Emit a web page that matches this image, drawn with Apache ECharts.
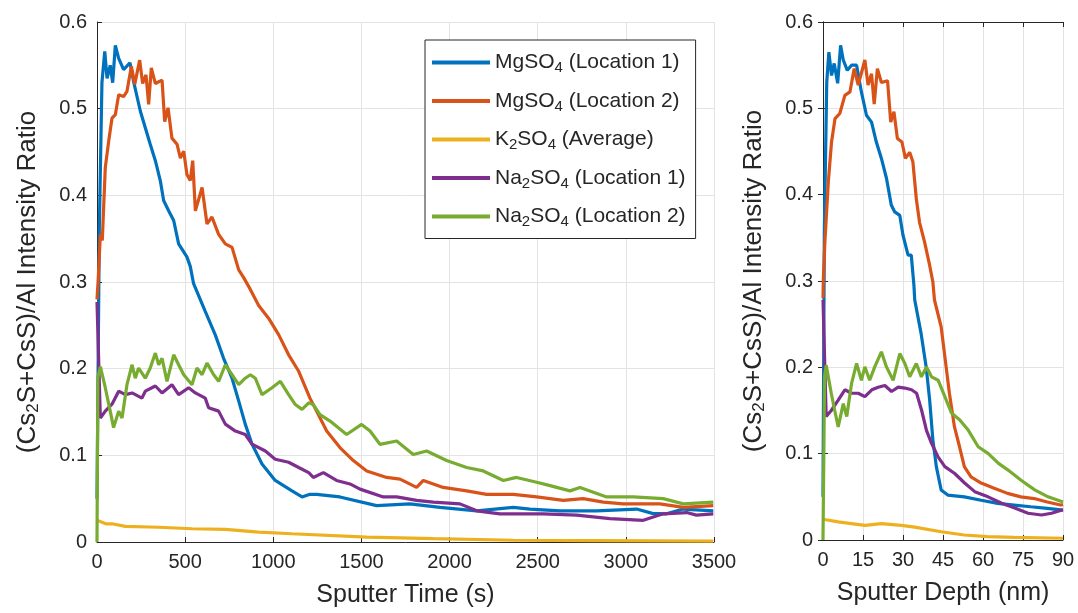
<!DOCTYPE html>
<html>
<head>
<meta charset="utf-8">
<script src="https://cdn.jsdelivr.net/npm/echarts@6/dist/echarts.min.js"></script>
<style>
  html, body { margin: 0; padding: 0; background: #fff; }
  #main { width: 1078px; height: 613px; }
</style>
</head>
<body>
<div id="main"></div>
<script>
// series names + legend labels (with subscripts)
var seriesNames = ['MgSO4 (Location 1)', 'MgSO4 (Location 2)', 'K2SO4 (Average)', 'Na2SO4 (Location 1)', 'Na2SO4 (Location 2)'];
var legendLabels = ['MgSO{sub|4} (Location 1)', 'MgSO{sub|4} (Location 2)', 'K{sub|2}SO{sub|4} (Average)', 'Na{sub|2}SO{sub|4} (Location 1)', 'Na{sub|2}SO{sub|4} (Location 2)'];
var colors = ['#0072BD', '#D95319', '#EDB120', '#7E2F8E', '#77AC30'];

var timeTicks = [0, 500, 1000, 1500, 2000, 2500, 3000, 3500];
var depthTicks = [0, 15, 30, 45, 60, 75, 90];

// ---- left panel: [sputter time (s), ratio]
var mg1Time = [[0,0.05],[13,0.36],[28,0.53],[44,0.566],[57,0.535],[75,0.55],[89,0.53],[104,0.573],[123,0.558],[151,0.545],[187,0.553],[208,0.531],[246,0.497],[274,0.478],[302,0.459],[331,0.44],[359,0.417],[378,0.394],[407,0.382],[435,0.371],[463,0.344],[510,0.329],[529,0.318],[548,0.298],[614,0.266],[671,0.239],[718,0.212],[766,0.189],[804,0.1625],[841,0.136],[879,0.113],[936,0.09],[1011,0.071],[1106,0.059],[1163,0.052],[1208,0.055],[1246,0.055],[1378,0.052],[1586,0.042],[1775,0.044],[1946,0.04],[2154,0.036],[2361,0.04],[2456,0.038],[2626,0.036],[2834,0.036],[3061,0.038],[3150,0.033],[3231,0.0325],[3325,0.038],[3496,0.036]];
var mg2Time = [[0,0.28],[6,0.30],[19,0.355],[30,0.348],[47,0.432],[66,0.462],[85,0.489],[104,0.493],[123,0.516],[151,0.514],[170,0.52],[195,0.549],[214,0.528],[242,0.556],[259,0.529],[278,0.539],[293,0.505],[308,0.547],[331,0.529],[369,0.533],[384,0.485],[403,0.501],[425,0.466],[454,0.459],[473,0.443],[492,0.451],[510,0.424],[529,0.417],[543,0.44],[558,0.382],[596,0.409],[624,0.367],[652,0.375],[690,0.355],[728,0.344],[766,0.34],[804,0.314],[832,0.305],[860,0.295],[917,0.273],[974,0.258],[1031,0.239],[1087,0.216],[1144,0.197],[1208,0.166],[1303,0.128],[1378,0.109],[1454,0.094],[1530,0.082],[1643,0.0745],[1719,0.0726],[1813,0.063],[1851,0.071],[1964,0.063],[2097,0.059],[2210,0.055],[2361,0.055],[2494,0.052],[2645,0.048],[2758,0.05],[2872,0.046],[2985,0.044],[3099,0.044],[3193,0.044],[3326,0.04],[3496,0.042]];
var k2Time = [[0,0.025],[10,0.023],[50,0.021],[85,0.021],[161,0.018],[350,0.017],[539,0.0153],[728,0.0145],[917,0.0115],[1106,0.0095],[1530,0.0057],[1908,0.0038],[2361,0.002],[2800,0.0015],[3496,0.001]];
var na1Time = [[0,0.277],[19,0.143],[47,0.151],[85,0.159],[123,0.174],[161,0.17],[199,0.172],[255,0.166],[274,0.174],[331,0.18],[369,0.172],[425,0.1815],[463,0.17],[520,0.178],[558,0.172],[614,0.166],[633,0.155],[690,0.151],[728,0.136],[785,0.128],[841,0.124],[879,0.113],[955,0.105],[1011,0.0955],[1087,0.092],[1144,0.086],[1201,0.08],[1227,0.0745],[1284,0.08],[1359,0.071],[1435,0.067],[1492,0.061],[1624,0.052],[1700,0.052],[1813,0.048],[1908,0.046],[2059,0.044],[2154,0.036],[2286,0.0325],[2380,0.0325],[2531,0.0325],[2721,0.031],[2910,0.027],[3099,0.025],[3212,0.0325],[3345,0.034],[3400,0.031],[3496,0.0325]];
var na2Time = [[0,0],[5,0.19],[19,0.2025],[47,0.178],[75,0.151],[94,0.132],[123,0.151],[142,0.143],[170,0.1815],[199,0.2045],[217,0.189],[236,0.2007],[274,0.189],[302,0.2007],[331,0.218],[350,0.2045],[369,0.212],[397,0.1854],[435,0.216],[463,0.2045],[492,0.193],[539,0.1815],[567,0.2007],[596,0.193],[624,0.2064],[662,0.193],[690,0.1854],[728,0.2045],[766,0.193],[804,0.1815],[841,0.189],[870,0.193],[898,0.189],[936,0.17],[993,0.178],[1040,0.1854],[1087,0.17],[1125,0.1586],[1163,0.153],[1201,0.1606],[1227,0.1586],[1265,0.147],[1322,0.1395],[1416,0.124],[1501,0.1357],[1549,0.128],[1605,0.1127],[1700,0.1166],[1794,0.101],[1870,0.105],[1983,0.094],[2097,0.086],[2191,0.082],[2305,0.071],[2380,0.0745],[2494,0.069],[2570,0.065],[2683,0.059],[2740,0.063],[2891,0.052],[3042,0.052],[3212,0.05],[3326,0.044],[3496,0.046]];

// ---- right panel: [sputter depth (nm), ratio]
var mg1Depth = [[0,0.05],[0.5,0.357],[1.4,0.53],[2.2,0.565],[3.2,0.538],[4.2,0.552],[5.5,0.529],[6.6,0.573],[7.6,0.556],[9.1,0.544],[10.7,0.55],[12.6,0.55],[14.4,0.519],[16.3,0.492],[18.2,0.484],[20,0.461],[21.9,0.442],[23.8,0.419],[25.6,0.388],[26.9,0.38],[28.8,0.376],[30,0.353],[31.9,0.33],[33.1,0.33],[34.1,0.295],[34.4,0.278],[36.8,0.239],[38.7,0.2],[40,0.162],[41.2,0.116],[42.5,0.085],[44.3,0.058],[46.8,0.052],[53,0.05],[59.3,0.046],[65.5,0.0425],[71.7,0.0405],[77.9,0.0385],[84.1,0.0367],[90,0.0347]];
var mg2Depth = [[0,0.28],[0.1,0.299],[0.7,0.345],[2,0.415],[3.2,0.461],[4.5,0.488],[6.3,0.494],[8.2,0.515],[10.1,0.519],[11.7,0.546],[13.2,0.527],[15.7,0.556],[16.9,0.527],[18.2,0.54],[19.2,0.505],[20.4,0.546],[21.9,0.53],[24.2,0.532],[25.4,0.484],[26.6,0.496],[27.9,0.465],[29.6,0.461],[30.9,0.442],[32.5,0.449],[33.7,0.438],[35,0.395],[36.2,0.368],[38.1,0.345],[40,0.318],[41.2,0.299],[41.8,0.278],[44.3,0.247],[46.2,0.2],[47.4,0.17],[49.3,0.131],[51.2,0.108],[53,0.085],[55.5,0.073],[59.3,0.066],[64.2,0.06],[69.2,0.054],[74.2,0.05],[79.2,0.048],[84.1,0.044],[89.1,0.0405],[90,0.041]];
var k2Depth = [[0,0.024],[0.7,0.023],[5.7,0.021],[15.7,0.017],[21.9,0.019],[29.4,0.017],[34.4,0.015],[44.3,0.0096],[53,0.0058],[61.7,0.0038],[71.7,0.003],[90,0.002]];
var na1Depth = [[0,0.278],[1.2,0.143],[3.1,0.15],[5.7,0.162],[8.2,0.174],[10.7,0.17],[13.2,0.17],[15.7,0.166],[18.3,0.174],[20.7,0.177],[23.2,0.179],[25.7,0.172],[28.2,0.177],[30.7,0.176],[33.2,0.174],[35.1,0.17],[37,0.15],[38.8,0.127],[40.7,0.112],[43.2,0.096],[45.7,0.085],[49.4,0.077],[53.1,0.066],[56.9,0.056],[61.9,0.05],[67,0.0425],[71.9,0.037],[76.9,0.031],[81.9,0.029],[85.7,0.031],[90,0.035]];
var na2Depth = [[0,0],[0.6,0.19],[1.2,0.2025],[3.1,0.17],[4.4,0.15],[5.7,0.131],[7.6,0.158],[8.9,0.143],[10.7,0.181],[12.6,0.2045],[14.4,0.185],[15.7,0.2005],[17.5,0.185],[19.4,0.2005],[21.9,0.218],[23.8,0.2005],[26.3,0.185],[28.8,0.216],[30.7,0.2045],[32.5,0.189],[35,0.2045],[36.9,0.189],[38.8,0.2005],[40.7,0.189],[43.2,0.185],[45.7,0.166],[48.2,0.147],[51.3,0.139],[54.5,0.127],[58.2,0.108],[62,0.1],[65.7,0.089],[69.4,0.081],[74.4,0.069],[79.4,0.058],[84.4,0.05],[90,0.044]];

var timeData = [mg1Time, mg2Time, k2Time, na1Time, na2Time];
var depthData = [mg1Depth, mg2Depth, k2Depth, na1Depth, na2Depth];

var txt = '#262626';
var fontFam = 'Liberation Sans, Arial, sans-serif';
var yName = '(Cs{sub|2}S+CsS)/Al Intensity Ratio';
function subStyle(size, drop) {
  return { sub: { fontSize: size, padding: [drop, 0, 0, 0], color: txt, fontFamily: fontFam } };
}

function valueY(grid, pos, show) {
  return {
    type: 'value', gridIndex: grid, position: pos, min: 0, max: 0.6, interval: 0.1,
    name: show ? yName : '', nameLocation: 'middle', nameGap: 55, nameRotate: 90,
    nameTextStyle: { fontSize: 26, color: txt, fontFamily: fontFam, rich: subStyle(17, 12) },
    axisLine: { show: true, lineStyle: { color: txt, width: 1 } },
    axisTick: { show: true, inside: true, length: 5, lineStyle: { color: txt } },
    axisLabel: { show: show, fontSize: 20, color: txt, fontFamily: fontFam, margin: 10,
      formatter: function (v) { return String(+v.toFixed(1)); } },
    splitLine: { show: show, lineStyle: { color: '#e3e3e3', width: 1 } }
  };
}
function valueX(grid, pos, max, step, name) {
  return {
    type: 'value', gridIndex: grid, position: pos, min: 0, max: max, interval: step,
    name: name, nameLocation: 'middle', nameGap: 41,
    nameTextStyle: { fontSize: 25, color: txt, fontFamily: fontFam },
    axisLine: { show: true, onZero: false, lineStyle: { color: txt, width: 1 } },
    axisTick: { show: true, inside: true, length: 5, lineStyle: { color: txt } },
    axisLabel: { show: !!name, fontSize: 20, color: txt, fontFamily: fontFam, margin: 10,
      formatter: function (v) { return String(v); } },
    splitLine: { show: !!name, lineStyle: { color: '#e3e3e3', width: 1 } }
  };
}

var series = [];
seriesNames.forEach(function (n, i) {
  series.push({ name: n, type: 'line', xAxisIndex: 0, yAxisIndex: 0, data: timeData[i],
    showSymbol: false, color: colors[i], lineStyle: { width: 3.2, color: colors[i] }, z: 2 + i });
});
seriesNames.forEach(function (n, i) {
  series.push({ name: n, type: 'line', xAxisIndex: 1, yAxisIndex: 1, data: depthData[i],
    showSymbol: false, color: colors[i], lineStyle: { width: 3.2, color: colors[i] }, z: 2 + i });
});

var chart = echarts.init(document.getElementById('main'), null, { renderer: 'canvas' });
chart.setOption({
  animation: false,
  backgroundColor: '#fff',
  grid: [
    { left: 97, top: 22, width: 617, height: 523 },
    { left: 823, top: 22, width: 240, height: 518 }
  ],
  xAxis: [
    valueX(0, 'bottom', 3500, 500, 'Sputter Time (s)'),
    valueX(1, 'bottom', 90, 15, 'Sputter Depth (nm)'),
    valueX(1, 'top', 90, 15, '')
  ],
  yAxis: [
    valueY(0, 'left', true),
    valueY(1, 'left', true),
    valueY(1, 'right', false)
  ],
  legend: {
    data: seriesNames,
    orient: 'vertical', left: 425, top: 40,
    icon: 'rect', itemWidth: 58, itemHeight: 4, itemGap: 15,
    padding: [12, 10, 9, 7],
    backgroundColor: '#fff', borderColor: txt, borderWidth: 1,
    textStyle: { fontSize: 21, color: txt, fontFamily: fontFam, rich: subStyle(15, 11) },
    formatter: function (name) { return legendLabels[seriesNames.indexOf(name)]; }
  },
  series: series
});
</script>
</body>
</html>
